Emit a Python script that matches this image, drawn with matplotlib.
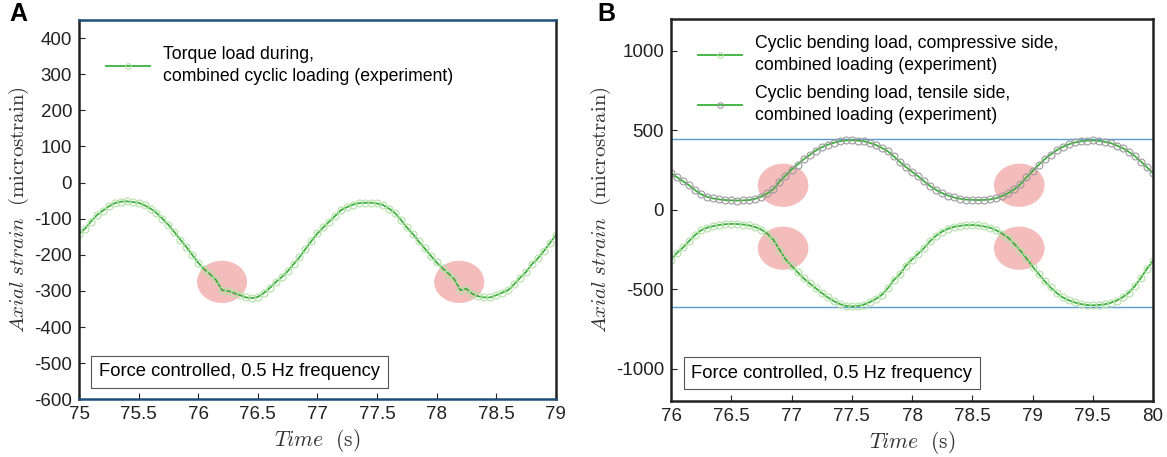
import matplotlib
matplotlib.use("Agg")
import matplotlib.pyplot as plt
from matplotlib.patches import Ellipse
from matplotlib.ticker import FormatStrFormatter

plt.rcParams['font.family'] = ['Liberation Sans', 'DejaVu Sans']
plt.rcParams['mathtext.fontset'] = 'cm'
plt.rcParams['axes.unicode_minus'] = False
plt.rcParams['font.size'] = 11

# ---- panel A: torque load ----
time_a = [75.00, 75.05, 75.10, 75.15, 75.20, 75.25, 75.30, 75.35, 75.40, 75.45,
          75.50, 75.55, 75.60, 75.65, 75.70, 75.75, 75.80, 75.85, 75.90, 75.95,
          76.00, 76.05, 76.10, 76.15, 76.20, 76.25, 76.30, 76.35, 76.40, 76.45,
          76.50, 76.55, 76.60, 76.65, 76.70, 76.75, 76.80, 76.85, 76.90, 76.95,
          77.00, 77.05, 77.10, 77.15, 77.20, 77.25, 77.30, 77.35, 77.40, 77.45,
          77.50, 77.55, 77.60, 77.65, 77.70, 77.75, 77.80, 77.85, 77.90, 77.95,
          78.00, 78.05, 78.10, 78.15, 78.20, 78.25, 78.30, 78.35, 78.40, 78.45,
          78.50, 78.55, 78.60, 78.65, 78.70, 78.75, 78.80, 78.85, 78.90, 78.95,
          79.00]
torque = [-142, -128, -108, -90, -78, -66, -57, -53, -52, -54,
          -56, -63, -72, -84, -100, -117, -137, -158, -178, -200,
          -222, -240, -254, -270, -298, -300, -306, -312, -318, -320,
          -317, -306, -292, -276, -262, -246, -226, -207, -184, -162,
          -141, -124, -108, -92, -76, -68, -61, -57, -56, -56,
          -58, -62, -72, -84, -103, -124, -142, -163, -182, -202,
          -221, -237, -252, -268, -298, -294, -308, -315, -318, -318,
          -312, -305, -298, -282, -264, -248, -226, -210, -190, -168,
          -146]

# ---- panel B: bending load ----
time_b = [76.00, 76.05, 76.10, 76.15, 76.20, 76.25, 76.30, 76.35, 76.40, 76.45,
          76.50, 76.55, 76.60, 76.65, 76.70, 76.75, 76.80, 76.85, 76.90, 76.95,
          77.00, 77.05, 77.10, 77.15, 77.20, 77.25, 77.30, 77.35, 77.40, 77.45,
          77.50, 77.55, 77.60, 77.65, 77.70, 77.75, 77.80, 77.85, 77.90, 77.95,
          78.00, 78.05, 78.10, 78.15, 78.20, 78.25, 78.30, 78.35, 78.40, 78.45,
          78.50, 78.55, 78.60, 78.65, 78.70, 78.75, 78.80, 78.85, 78.90, 78.95,
          79.00, 79.05, 79.10, 79.15, 79.20, 79.25, 79.30, 79.35, 79.40, 79.45,
          79.50, 79.55, 79.60, 79.65, 79.70, 79.75, 79.80, 79.85, 79.90, 79.95,
          80.00]
tensile = [231, 205, 180, 155, 124, 98, 82, 72, 66, 62,
           60, 59, 60, 62, 70, 84, 104, 130, 178, 215,
           254, 285, 318, 345, 372, 394, 410, 422, 432, 437,
           438, 436, 432, 422, 408, 390, 368, 336, 301, 270,
           240, 212, 180, 150, 126, 105, 90, 78, 70, 65,
           63, 62, 63, 66, 74, 88, 106, 130, 162, 205,
           244, 282, 318, 348, 375, 396, 412, 424, 431, 436,
           437, 434, 428, 420, 405, 388, 365, 338, 304, 268,
           231]
compressive = [-312, -270, -236, -196, -158, -128, -112, -102, -95, -90,
               -88, -89, -92, -98, -108, -124, -150, -188, -250, -310,
               -352, -392, -430, -462, -492, -522, -550, -573, -592, -603,
               -607, -604, -596, -580, -560, -534, -492, -440, -404, -350,
               -312, -276, -240, -196, -162, -136, -118, -106, -100, -96,
               -95, -98, -104, -113, -128, -150, -176, -215, -257, -305,
               -356, -402, -448, -488, -522, -550, -568, -582, -592, -598,
               -600, -598, -594, -584, -570, -548, -520, -478, -428, -370,
               -320]
ref_lines_b = [443, -610]

# highlighted regions (centre time, centre strain)
marks_a = [(76.2, -275), (78.19, -275)]
marks_b = [(76.93, 155), (76.93, -241), (78.89, 155), (78.89, -241)]

green = '#3cb03c'
light_green = '#b4e0a8'
grey_mk = '#9a9a9a'
pink = '#f5bcbc'
navy = '#1f4e79'

fig = plt.figure(figsize=(11.67, 4.57), dpi=100)
ax1 = fig.add_axes([0.0677, 0.1263, 0.4085, 0.830])
ax2 = fig.add_axes([0.575, 0.1232, 0.413, 0.835])

# panel A
ax1.plot(time_a, torque, '-', color=green, lw=1.3, marker='o', ms=5,
         mfc='none', mec=light_green, mew=0.8,
         label='Torque load during,\ncombined cyclic loading (experiment)')
for t, v in marks_a:
    ax1.add_patch(Ellipse((t, v), 0.42, 117, facecolor=pink, edgecolor='none', zorder=0.5))
ax1.set_xlim(75, 79)
ax1.set_ylim(-600, 450)
ax1.set_yticks(range(-600, 401, 100))
ax1.set_xticks([75, 75.5, 76, 76.5, 77, 77.5, 78, 78.5, 79])
ax1.spines['top'].set_color(navy)
ax1.spines['bottom'].set_color(navy)

# panel B
ax2.axhline(ref_lines_b[0], color='#5b9bd5', lw=1, zorder=1)
ax2.axhline(ref_lines_b[1], color='#5b9bd5', lw=1, zorder=1)
ax2.plot(time_b, compressive, '-', color=green, lw=1.3, marker='o', ms=5,
         mfc='none', mec=light_green, mew=0.8,
         label='Cyclic bending load, compressive side,\ncombined loading (experiment)')
ax2.plot(time_b, tensile, '-', color=green, lw=1.3, marker='o', ms=5,
         mfc='none', mec=grey_mk, mew=0.8,
         label='Cyclic bending load, tensile side,\ncombined loading (experiment)')
for t, v in marks_b:
    ax2.add_patch(Ellipse((t, v), 0.42, 272, facecolor=pink, edgecolor='none', zorder=0.5))
ax2.set_xlim(76, 80)
ax2.set_ylim(-1200, 1200)
ax2.set_yticks([-1000, -500, 0, 500, 1000])
ax2.set_xticks([76, 76.5, 77, 77.5, 78, 78.5, 79, 79.5, 80])

legend_top = {ax1: 0.963, ax2: 0.99}
for ax in (ax1, ax2):
    ax.xaxis.set_major_formatter(FormatStrFormatter('%g'))
    ax.tick_params(direction='in', length=4, width=0.8, labelsize=13.5, colors='#222222',
                   top=False, right=False, pad=5)
    for sp in ax.spines.values():
        sp.set_linewidth(1.8)
    for s in ('left', 'right'):
        ax.spines[s].set_color('#222222')
    ax.set_ylabel(r'$Axial\ strain\ \ \mathrm{(microstrain)}$', fontsize=15, color='#333333',
                  labelpad=2)
    ax.set_xlabel(r'$Time\ \ \mathrm{(s)}$', fontsize=15.5, color='#333333', labelpad=3)
    ax.text(0.042, 0.05, 'Force controlled, 0.5 Hz frequency', transform=ax.transAxes,
            fontsize=13.2, va='bottom', ha='left',
            bbox=dict(boxstyle='square,pad=0.42', fc='white', ec='#555555', lw=0.8))
    leg = ax.legend(loc='upper left', bbox_to_anchor=(0.03, legend_top[ax]), frameon=False,
                    handlelength=2.5, handletextpad=0.75, labelspacing=0.65,
                    fontsize=12.7, markerscale=0.8, borderaxespad=0.3)
    for txt in leg.get_texts():
        txt.set_linespacing(1.35)

ax2.spines['top'].set_color('#222222')
ax2.spines['bottom'].set_color('#222222')

fig.text(0.008, 0.953, 'A', fontsize=18, fontweight='bold')
fig.text(0.512, 0.953, 'B', fontsize=18, fontweight='bold')

fig.savefig('out.png', dpi=100)
